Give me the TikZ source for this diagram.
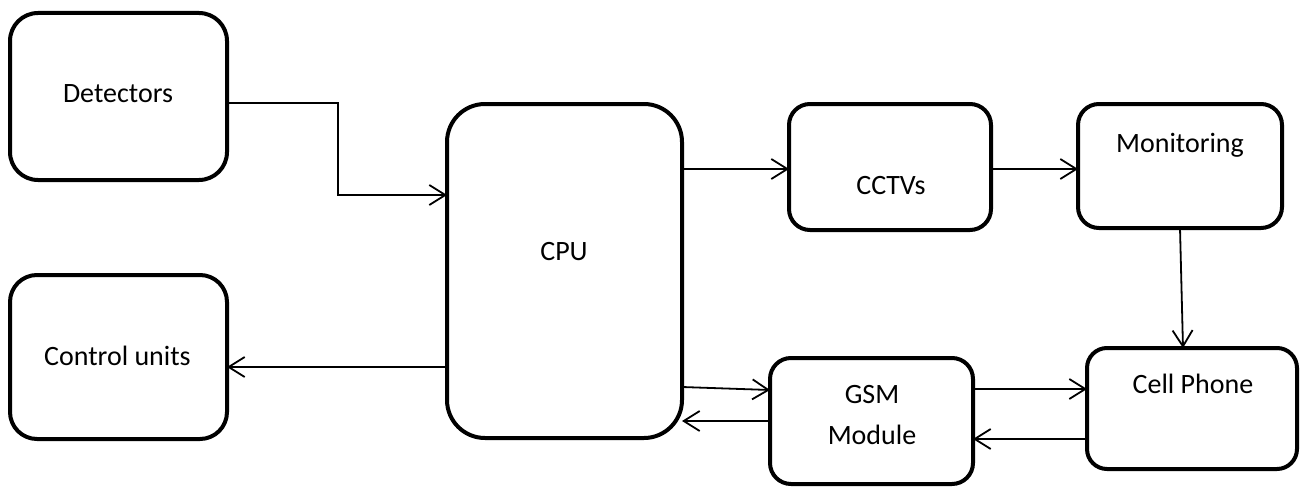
\documentclass[tikz,border=0pt]{standalone}
\usepackage{fontspec}
\setmainfont{Carlito}
\usetikzlibrary{arrows.meta,calc}
\begin{document}
\begin{tikzpicture}[x=1pt,y=-1pt,
  box/.style={draw=black,line width=4pt,fill=white,inner sep=0pt,outer sep=0pt},
  txt/.style={anchor=base,inner sep=0pt,font=\fontsize{28}{34}\selectfont},
  conn/.style={draw=black,line width=1.8pt,-{Straight Barb[length=16pt,width=20pt,line width=1.8pt]}}]
\useasboundingbox (0,0) rectangle (1301,487);
% boxes
\node[box,minimum width=217pt,minimum height=167pt,rounded corners=28pt] (det) at (118.5,96.5) {};
\node[box,minimum width=217pt,minimum height=164pt,rounded corners=27pt] (ctrl) at (118.5,357) {};
\node[box,minimum width=235pt,minimum height=334pt,rounded corners=38pt] (cpu) at (564.5,271) {};
\node[box,minimum width=202pt,minimum height=126pt,rounded corners=21pt] (cctv) at (890,167) {};
\node[box,minimum width=204pt,minimum height=124pt,rounded corners=21pt] (mon) at (1180,166) {};
\node[box,minimum width=203pt,minimum height=126pt,rounded corners=21pt] (gsm) at (871.5,421) {};
\node[box,minimum width=210pt,minimum height=121pt,rounded corners=20pt] (cell) at (1192,408.5) {};
% texts
\node[txt] (tdet) at (118,102) {Detectors};
\node[txt] (tctrl) at (117.5,365) {Control units};
\node[txt] (tcpu) at (564,260) {CPU};
\node[txt] (tcctv) at (891,194) {CCTVs};
\node[txt] (tmon) at (1180,152) {Monitoring};
\node[txt] (tgsm) at (872,403) {GSM};
\node[txt] (tmod) at (872,444) {Module};
\node[txt] (tcell) at (1193,393) {Cell Phone};
% connectors
\draw[conn] ($(det.east)+(0,6.5)$) -- ++(111,0) |- ($(cpu.west)+(0,-76)$);
\draw[conn] ($(cpu.east |- cctv.west)+(0,2)$) -- ($(cctv.west)+(0,2)$);
\draw[conn] ($(cctv.east)+(0,2)$) -- ($(mon.west |- cctv.east)+(0,2)$);
\draw[conn] ($(mon.south)+(0,0)$) -- ($(cell.north)+(-9,0)$);
\draw[conn] ($(cpu.east)+(0,116)$) -- ($(gsm.west)+(0,-31)$);
\draw[conn] (gsm.west) -- (gsm.west -| cpu.east);
\draw[conn] ($(gsm.east)+(0,-32)$) -- ($(cell.west |- gsm.east)+(0,-32)$);
\draw[conn] ($(cell.west)+(0,30.5)$) -- ($(gsm.east |- cell.west)+(0,30.5)$);
\draw[conn] ($(cpu.west)+(0,96)$) -- ($(ctrl.east |- cpu.west)+(0,96)$);
\end{tikzpicture}
\end{document}
